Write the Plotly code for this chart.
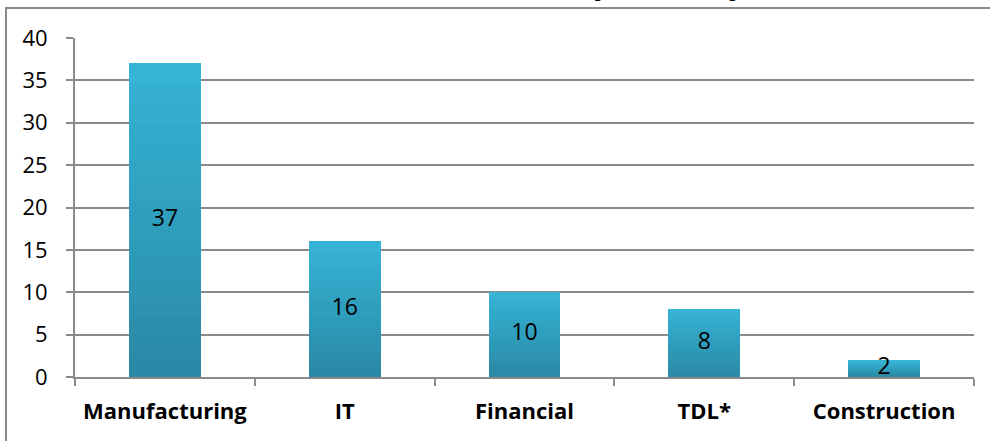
import plotly.graph_objects as go

categories = ["Manufacturing", "IT", "Financial", "TDL*", "Construction"]
values = [37, 16, 10, 8, 2]
y_ticks = [0, 5, 10, 15, 20, 25, 30, 35, 40]

W, H = 990, 441
L, R, T, B = 75, 16, 38, 64

bottom_rgb = (41, 136, 164)
top_rgb = (54, 180, 215)
N = 16

fig = go.Figure()
for k in range(N):
    f = (k + 0.5) / N
    c = tuple(round(bottom_rgb[i] + (top_rgb[i] - bottom_rgb[i]) * f) for i in range(3))
    fig.add_trace(go.Bar(
        x=categories, y=[v / N for v in values],
        marker=dict(color="rgb(%d,%d,%d)" % c, line=dict(width=0)),
        width=0.4, showlegend=False, hoverinfo="skip",
    ))

fig.add_trace(go.Scatter(
    x=categories, y=[v / 2 for v in values], text=[str(v) for v in values],
    mode="text", textposition="middle center",
    textfont=dict(family="Open Sans", size=23, color="#000000"),
    showlegend=False, hoverinfo="skip",
))

pw = W - L - R
ph = H - T - B
fig.add_shape(type="rect", xref="paper", yref="paper",
              x0=(6 - L) / pw, x1=1.2, y0=-0.5, y1=(H - B - 8) / ph,
              line=dict(color="#8a8a8a", width=2), fillcolor="rgba(0,0,0,0)", layer="below")

fig.add_annotation(text="by Industry", xref="paper", yref="paper",
                   x=(748 - L) / pw, y=(H - B - 4) / ph, xanchor="right", yanchor="bottom",
                   showarrow=False, borderpad=0,
                   font=dict(family="Open Sans", size=30, color="#000000", weight="bold"))

fig.update_layout(
    width=W, height=H, margin=dict(l=L, r=R, t=T, b=B),
    barmode="stack", bargap=0.6,
    paper_bgcolor="white", plot_bgcolor="white",
    font=dict(family="Open Sans", color="#000000"),
    xaxis=dict(type="category", showline=True, linecolor="#8a8a8a", linewidth=2,
               ticks="outside", ticklen=7, tickwidth=2, tickcolor="#8a8a8a",
               tickson="boundaries", showgrid=False, ticklabelstandoff=14,
               tickfont=dict(family="Open Sans", size=22, color="#000000", weight="bold")),
    yaxis=dict(range=[0, 40], tickvals=y_ticks, showline=True, linecolor="#8a8a8a", linewidth=2,
               ticks="outside", ticklen=7, tickwidth=2, tickcolor="#8a8a8a",
               showgrid=True, gridcolor="#8a8a8a", gridwidth=2, zeroline=False,
               ticklabelstandoff=14,
               tickfont=dict(family="Open Sans", size=22, color="#000000")),
)

fig.write_html("out.html", config={"displayModeBar": False},
               post_script="document.body.style.margin='0';document.body.style.padding='0';")
